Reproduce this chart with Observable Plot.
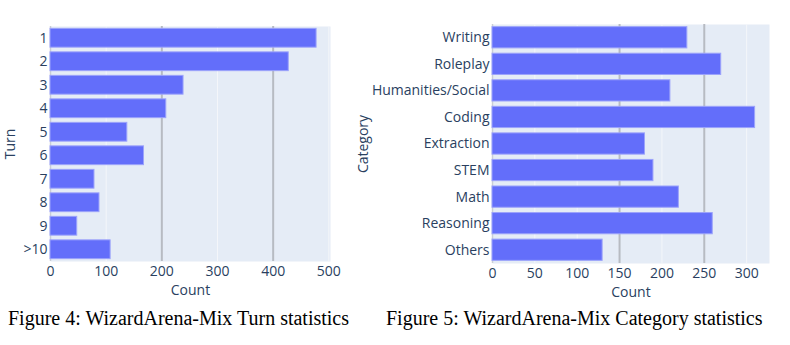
<!DOCTYPE html>
<html>
<head>
<meta charset="utf-8">
<script src="https://cdn.jsdelivr.net/npm/d3@7"></script>
<script src="https://cdn.jsdelivr.net/npm/@observablehq/plot@0.6"></script>
<style>
  html, body { margin: 0; padding: 0; background: #fff; }
  #wrap { position: relative; width: 790px; height: 345px; overflow: hidden; }
  .panel { position: absolute; top: 0; }
  .cap { position: absolute; top: 307px; font-family: "Liberation Serif", "Times New Roman", serif; font-size: 20px; color: #000; white-space: nowrap; }
</style>
</head>
<body>
<div id="wrap">
  <div class="panel" id="left" style="left:0px"></div>
  <div class="panel" id="right" style="left:360px"></div>
  <div class="cap" style="left:8px">Figure 4: WizardArena-Mix Turn statistics</div>
  <div class="cap" style="left:386px">Figure 5: WizardArena-Mix Category statistics</div>
</div>
<script>
const turnLabels = ["1", "2", "3", "4", "5", "6", "7", "8", "9", ">10"];
const turnCounts = [478, 428, 239, 208, 138, 168, 79, 88, 48, 108];
const turnTicks = [0, 100, 200, 300, 400, 500];

const categoryLabels = ["Writing", "Roleplay", "Humanities/Social", "Coding", "Extraction", "STEM", "Math", "Reasoning", "Others"];
const categoryCounts = [230, 270, 210, 310, 180, 190, 220, 260, 130];
const categoryTicks = [0, 50, 100, 150, 200, 250, 300];

const BAR = "#636efa";
const BG = "#e5ecf6";
const TXT = "#2a3f5f";

function panel({labels, counts, ticks, darkTicks, xMax, width, mLeft, mRight, mTop, mBottom, yLabel, yLabelOffset, xLabelOffset}) {
  const data = labels.map((l, i) => ({label: l, count: counts[i]}));
  return Plot.plot({
    width, height: 300,
    marginLeft: mLeft, marginRight: mRight, marginTop: mTop, marginBottom: mBottom,
    style: {fontFamily: "'Open Sans', sans-serif", fontSize: "14px", color: TXT, background: "transparent", overflow: "visible"},
    x: {domain: [0, xMax]},
    y: {domain: labels, paddingInner: 0.2, paddingOuter: 0.1, round: false},
    marks: [
      Plot.frame({fill: BG, stroke: null}),
      Plot.ruleX(ticks.filter(t => !darkTicks.includes(t)), {stroke: "#f4f6fa", strokeWidth: 1}),
      Plot.ruleX(darkTicks, {stroke: "#b7bbc2", strokeWidth: 2}),
      Plot.ruleX([0], {stroke: "#c9ced6", strokeWidth: 1.5}),
      Plot.barX(data, {x: "count", y: "label", fill: BAR, stroke: "#9ca3fb", strokeWidth: 1}),
      Plot.axisX({ticks, tickSize: 0, tickPadding: 5, fontSize: 14, label: "Count", labelAnchor: "center", labelArrow: "none", labelOffset: xLabelOffset, fill: TXT}),
      Plot.axisY({tickSize: 0, tickPadding: 3, fontSize: 14, label: yLabel, labelAnchor: "center", labelArrow: "none", labelOffset: yLabelOffset, fill: TXT})
    ]
  });
}

document.getElementById("left").appendChild(panel({
  labels: turnLabels, counts: turnCounts, ticks: turnTicks, darkTicks: [200, 400],
  xMax: 503, width: 360, mLeft: 50, mRight: 30, mTop: 26, mBottom: 39,
  yLabel: "Turn", yLabelOffset: 45, xLabelOffset: 33
}));
document.getElementById("right").appendChild(panel({
  labels: categoryLabels, counts: categoryCounts, ticks: categoryTicks, darkTicks: [150, 250],
  xMax: 327, width: 430, mLeft: 132, mRight: 21, mTop: 24, mBottom: 37,
  yLabel: "Category", yLabelOffset: 134, xLabelOffset: 33
}));
</script>
</body>
</html>
